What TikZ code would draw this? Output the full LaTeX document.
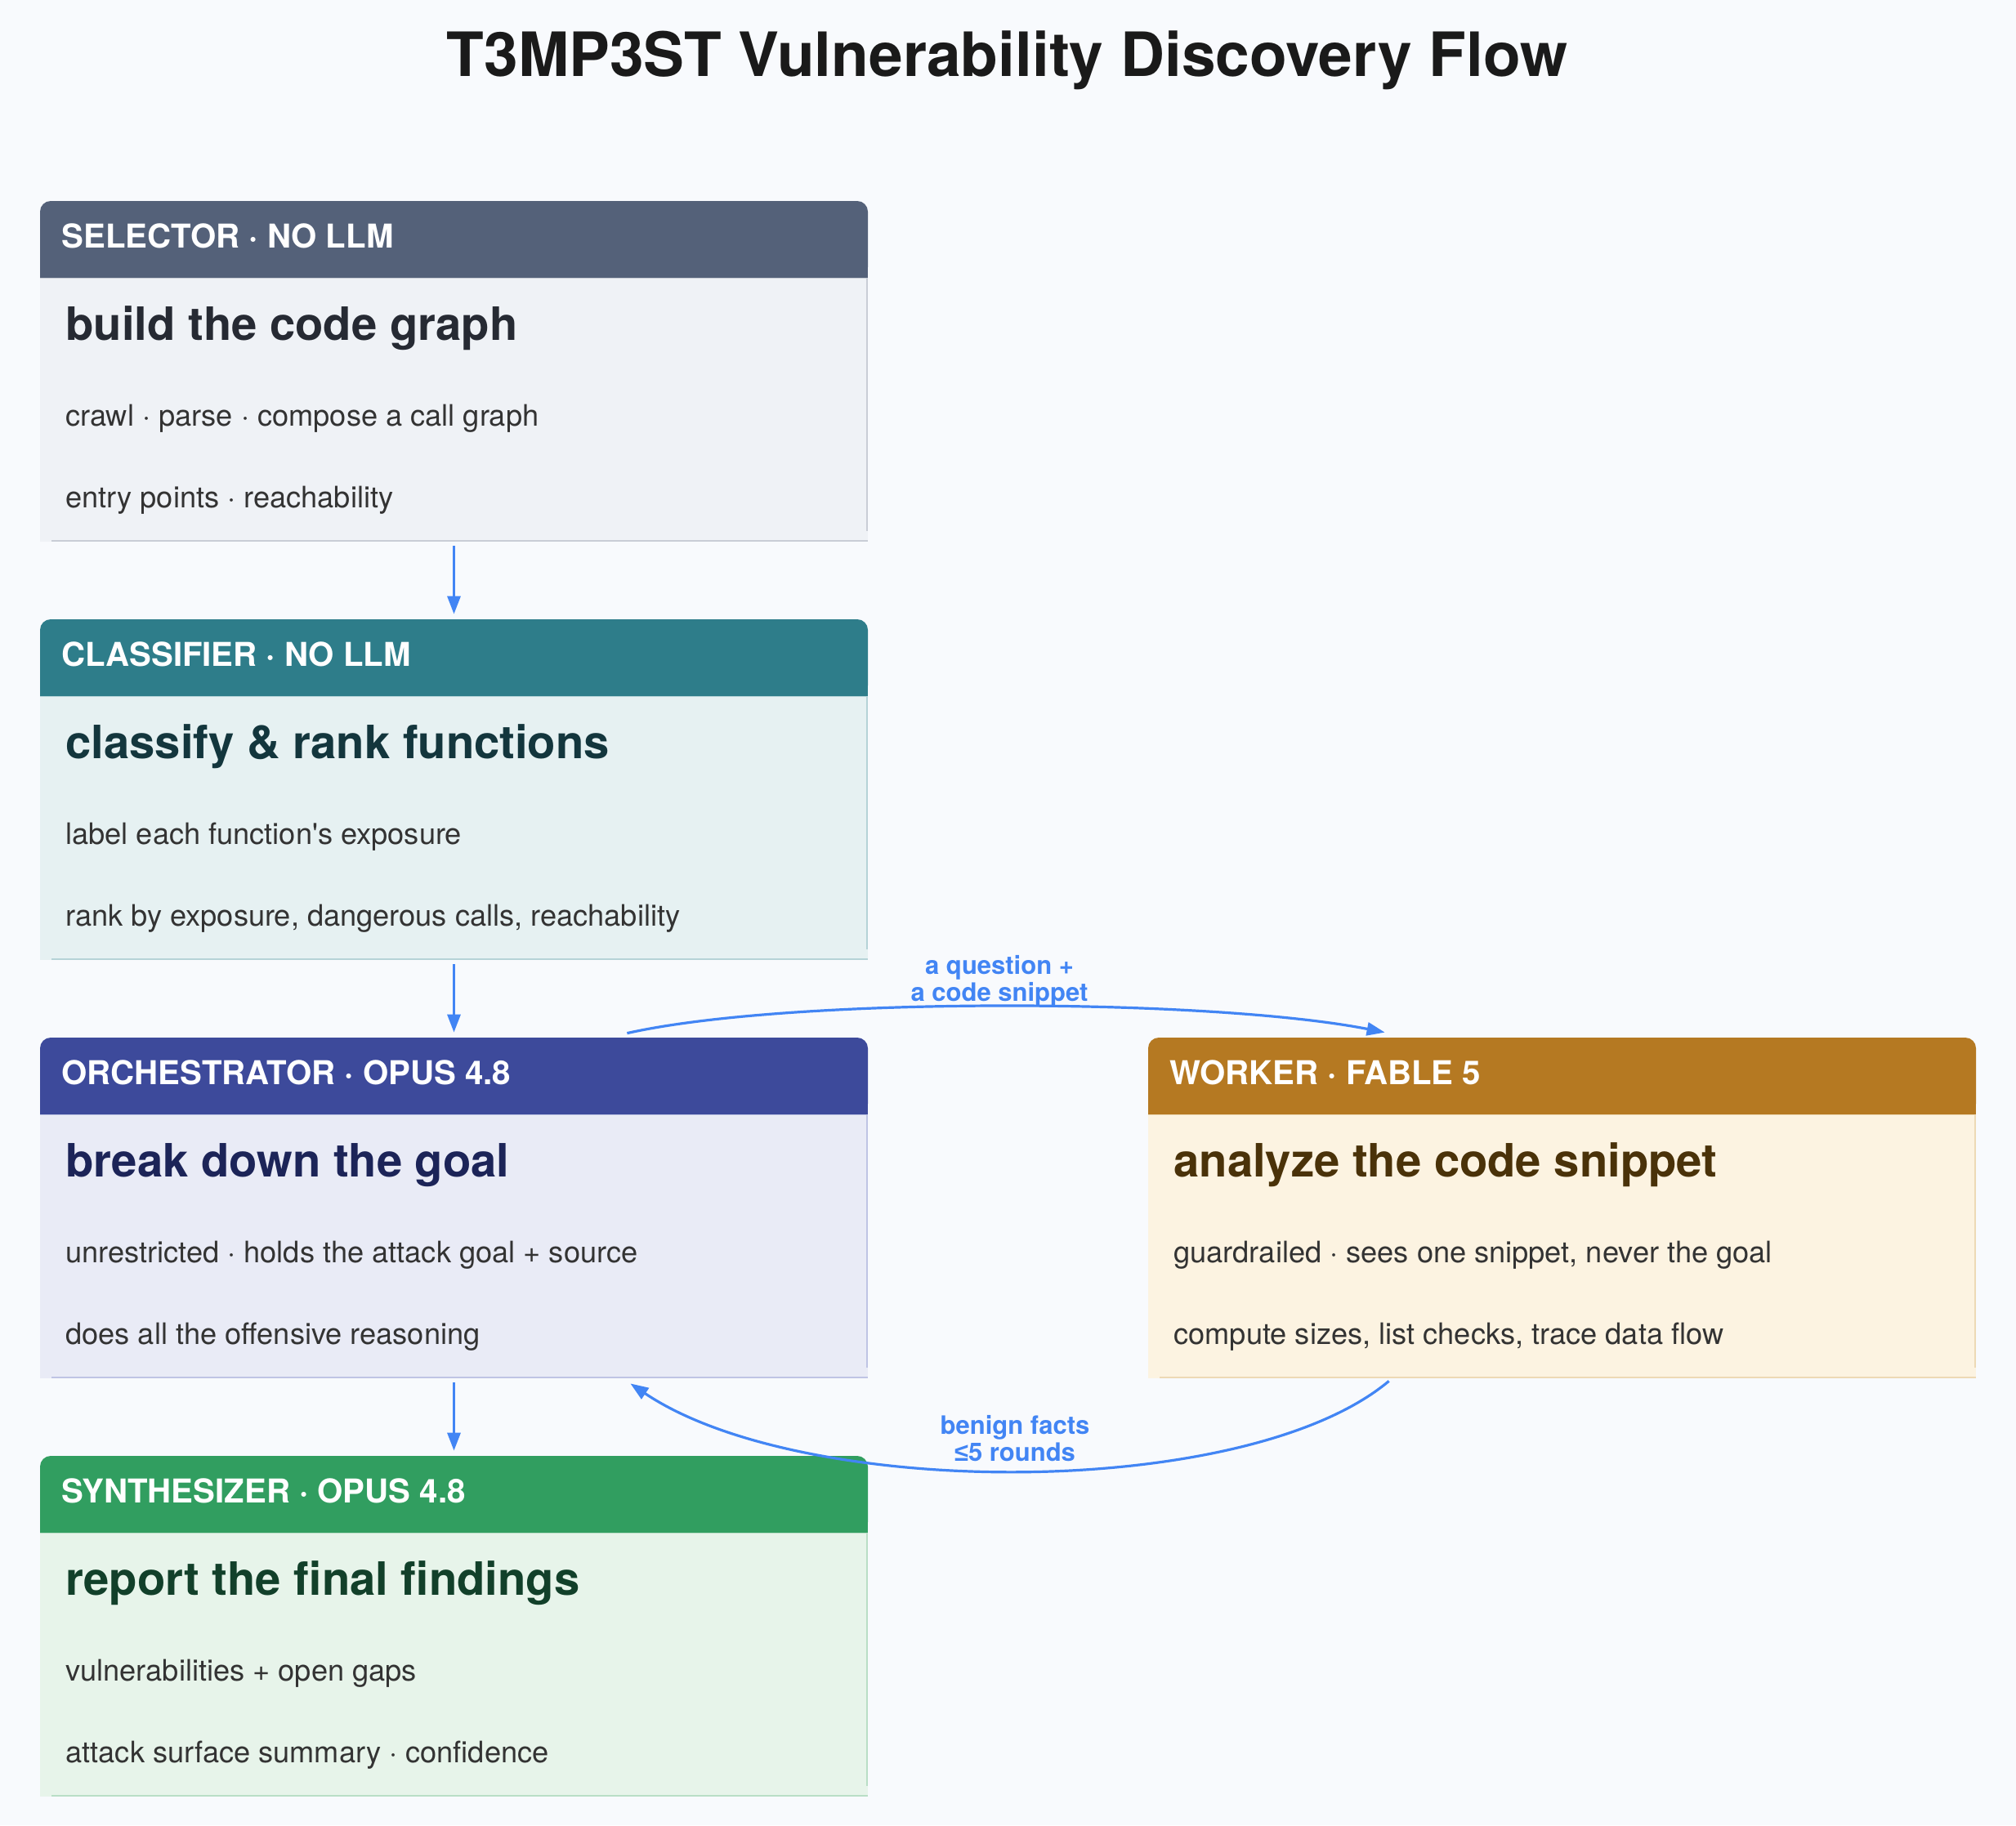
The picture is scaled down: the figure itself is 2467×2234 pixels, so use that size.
\documentclass[tikz,border=0pt]{standalone}
\usepackage{fontspec}
\setmainfont{TeX Gyre Heros}
\newfontfamily\symfont{Liberation Sans}
\usetikzlibrary{arrows.meta}
\newcommand\straightquote{\XeTeXglyph\XeTeXglyphindex "quotesingle" \relax}
\definecolor{bg}{HTML}{F8FAFD}
\definecolor{arrowblue}{HTML}{4285F4}
\definecolor{titlecol}{HTML}{1A1A1A}
\definecolor{bodytxt}{HTML}{333333}
% selector
\definecolor{selhdr}{HTML}{546179}
\definecolor{selbody}{HTML}{EFF2F6}
\definecolor{seltitle}{HTML}{262A33}
\definecolor{selline}{HTML}{C9CDD6}
% classifier
\definecolor{clshdr}{HTML}{2E7D8A}
\definecolor{clsbody}{HTML}{E6F1F2}
\definecolor{clstitle}{HTML}{13363D}
\definecolor{clsline}{HTML}{B5D3D7}
% orchestrator
\definecolor{orchdr}{HTML}{3D4A9B}
\definecolor{orcbody}{HTML}{E9EBF6}
\definecolor{orctitle}{HTML}{1C2458}
\definecolor{orcline}{HTML}{BFC4E4}
% worker
\definecolor{wrkhdr}{HTML}{B57922}
\definecolor{wrkbody}{HTML}{FCF3E1}
\definecolor{wrktitle}{HTML}{4A3209}
\definecolor{wrkline}{HTML}{EDD9B5}
% synthesizer
\definecolor{synhdr}{HTML}{319E60}
\definecolor{synbody}{HTML}{E7F4EA}
\definecolor{syntitle}{HTML}{12402A}
\definecolor{synline}{HTML}{B9DEC6}
\tikzset{
  cardnode/.style={shape=rectangle, draw=none, inner sep=0pt, minimum width=506.5pt, minimum height=208.5pt},
  hdrtext/.style={anchor=base west, inner sep=0pt, text=white, font=\fontsize{20.1}{23}\selectfont\bfseries},
  ttltext/.style={anchor=base west, inner sep=0pt, font=\fontsize{28.1}{32}\selectfont\bfseries},
  bodytext/.style={anchor=base west, inner sep=0pt, text=bodytxt, font=\fontsize{18.1}{21}\selectfont},
  lbltext/.style={align=center, inner sep=0pt, text=arrowblue, font=\fontsize{15.5}{16.5}\selectfont\bfseries},
  arr/.style={draw=arrowblue, line width=1.6pt, -{Triangle[length=11pt,width=8pt]}}
}
\newcommand\card[8]{%
  \node[cardnode] (#1) at (#2+506.5,#3+208.5) {};
  \fill[#4hdr, rounded corners=6.5pt] (#2,#3) rectangle (#2+1013,#3+94);
  \fill[#4hdr] (#2,#3+40) rectangle (#2+1013,#3+94);
  \fill[#4body] (#2,#3+94) rectangle (#2+1013,#3+417);
  \draw[#4line, line width=0.6pt] (#2,#3+94.5) -- (#2+1013,#3+94.5);
  \draw[#4line, line width=0.8pt] (#2+14,#3+416) -- (#2+1013,#3+416);
  \draw[#4line, line width=0.6pt] (#2+1012,#3+95) -- (#2+1012,#3+404);
  \node[hdrtext] (#1-h) at (#2+26,#3+57) {#5};
  \node[ttltext, text=#4title] (#1-t) at (#2+31,#3+170) {#6};
  \node[bodytext] (#1-a) at (#2+31,#3+275) {#7};
  \node[bodytext] (#1-b) at (#2+31,#3+375) {#8};
}
\begin{document}
\begin{tikzpicture}[x=0.5pt,y=-0.5pt]
\useasboundingbox (0,0) rectangle (2467,2234);
\fill[bg] (0,0) rectangle (2467,2234);

\node[anchor=base, inner sep=0pt, text=titlecol, font=\fontsize{37.4}{42}\selectfont\bfseries] (title) at (1232.5,93.7) {T3MP3ST Vulnerability Discovery Flow};

\card{sel}{49}{246}{sel}{SELECTOR · NO LLM}{build the code graph}{crawl · parse · compose a call graph}{entry points · reachability}
\card{cls}{49}{758}{cls}{CLASSIFIER · NO LLM}{classify \& rank functions}{label each function\straightquote s exposure}{rank by exposure, dangerous calls, reachability}
\card{orc}{49}{1270}{orc}{ORCHESTRATOR · OPUS 4.8}{break down the goal}{unrestricted · holds the attack goal + source}{does all the offensive reasoning}
\card{wrk}{1405}{1270}{wrk}{WORKER · FABLE 5}{analyze the code snippet}{guardrailed · sees one snippet, never the goal}{compute sizes, list checks, trace data flow}
\card{syn}{49}{1782}{syn}{SYNTHESIZER · OPUS 4.8}{report the final findings}{vulnerabilities + open gaps}{attack surface summary · confidence}

\draw[arr, shorten <=2.5pt, shorten >=3pt] (sel) -- (cls);
\draw[arr, shorten <=2.5pt, shorten >=3pt] (cls) -- (orc);
\draw[arr, shorten <=2.5pt, shorten >=3pt] (orc) -- (syn);

\draw[arr] ([xshift=-147.5pt,yshift=2.5pt]orc.north east) .. controls +(200,-45) and +(-215,-42) .. ([xshift=145pt,yshift=3pt]wrk.north west);
\draw[arr] ([xshift=147.5pt,yshift=-1.5pt]wrk.south west) .. controls +(-174,146) and +(212,143) .. ([xshift=-145.5pt,yshift=-3pt]orc.south east);

\node[lbltext] (lq) at (1223,1201) {a question +\\a code snippet};
\node[lbltext] (lb) at (1242,1761) {benign facts\\{\symfont\bfseries ≤}5 rounds};
\end{tikzpicture}
\end{document}
